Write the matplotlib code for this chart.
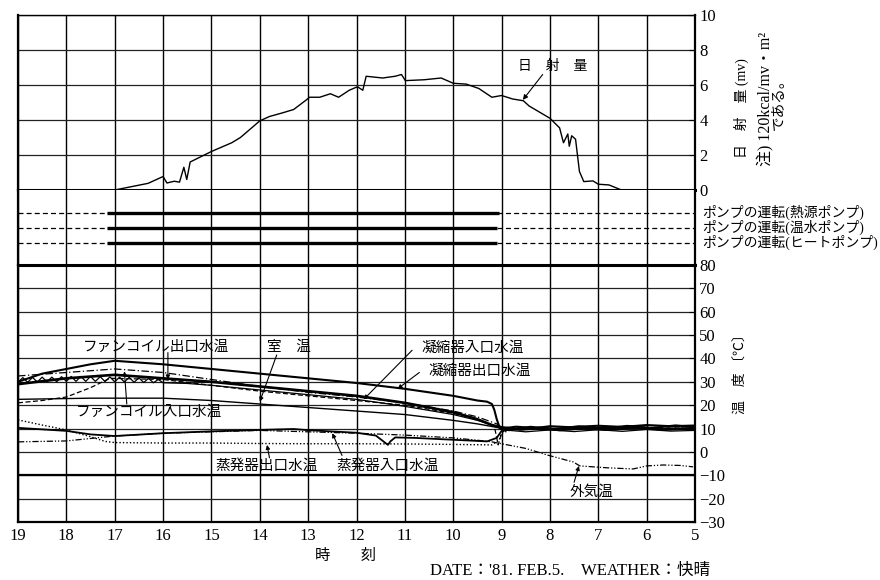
import numpy as np
import matplotlib.pyplot as plt

plt.rcParams['font.family'] = ['Liberation Serif', 'Noto Sans CJK JP']

hours = list(range(19, 4, -1))

# 日射量 (mv)
sun_h = [17.0, 16.31, 16.0, 15.92, 15.77, 15.66, 15.57, 15.51, 15.44, 15.0, 14.58, 14.4, 14.0,
         13.8, 13.54, 13.3, 13.06, 12.97, 12.76, 12.54, 12.37, 12.15, 11.98, 11.87, 11.8, 11.46,
         11.2, 11.07, 10.99, 10.6, 10.25, 10.0, 9.73, 9.47, 9.2, 9.0, 8.77, 8.55, 8.43, 8.0, 7.8,
         7.72, 7.63, 7.6, 7.55, 7.47, 7.39, 7.3, 7.11, 7.0, 6.78, 6.52]
sun_v = [0.0, 0.38, 0.77, 0.4, 0.5, 0.45, 1.3, 0.6, 1.6, 2.2, 2.7, 3.0, 3.95,
         4.2, 4.4, 4.6, 5.1, 5.3, 5.3, 5.5, 5.3, 5.7, 5.9, 5.7, 6.5, 6.4,
         6.5, 6.6, 6.25, 6.3, 6.4, 6.1, 6.05, 5.8, 5.3, 5.4, 5.2, 5.1, 4.8, 4.1, 3.55,
         2.7, 3.2, 2.5, 3.1, 2.9, 1.06, 0.48, 0.52, 0.33, 0.29, 0.0]

# ポンプの運転
pump_names = ['ポンプの運転(熱源ポンプ)', 'ポンプの運転(温水ポンプ)', 'ポンプの運転(ヒートポンプ)']
pump_on = [17.15, 17.15, 17.15]
pump_off = [9.05, 9.1, 9.1]

# 温度 (℃)
cond_out_h = [19, 18.5, 18, 17.5, 17, 16, 15, 14, 13, 12, 11, 10, 9.5, 9.3, 9.2, 9.15, 9.1, 9.05, 9.0,
              8.7, 8.3, 8, 7.6, 7, 6.5, 6, 5.5, 5]
cond_out_t = [30, 33.5, 35.5, 37.5, 39, 37.5, 35.5, 33.5, 31.5, 29.5, 27, 24, 22, 21.5, 20.5, 18, 14, 11, 10,
              10.8, 10.2, 11, 10.6, 11.2, 10.7, 11.5, 11, 11.3]

cond_in_h = [19, 18, 17, 16, 15, 14, 13, 12, 11, 10, 9.5, 9.2, 9.0, 8.6, 8.2, 7.8, 7.3, 6.8, 6.2, 5.6, 5]
cond_in_t = [29, 31.5, 33, 31.5, 30, 28, 26, 24, 21, 17, 14, 11.5, 10.5, 9.6, 10.3, 9.4, 10.2, 9.5, 10.4, 9.6, 10.2]

fc_in_h = [19, 18, 17, 16, 15, 14, 13, 12, 11, 10, 9.5, 9.1, 9.0, 8, 7, 6, 5]
fc_in_t = [32.5, 34, 35.5, 34, 31, 28, 25.5, 23.5, 21, 17.5, 15, 12, 10.5, 9.5, 10, 10, 9.5]

fc_out_h = [19.0, 18.9, 18.8, 18.7, 18.6, 18.5, 18.4, 18.3, 18.2, 18.1, 18.0, 17.9, 17.8, 17.7, 17.6,
            17.5, 17.4, 17.3, 17.2, 17.1, 17.0, 16.9, 16.8, 16.7, 16.6, 16.5, 16.4, 16.3, 16.2, 16.1,
            16.0, 15.5, 15, 14, 13, 12, 11, 10, 9.5, 9.1, 9.0, 8.5, 8, 7.5, 7, 6.5, 6, 5.5, 5]
fc_out_t = [29.8, 31.8, 29.8, 31.9, 29.9, 32.0, 30.0, 32.0, 30.0, 32.2, 30.2, 32.3, 30.2, 32.3, 30.2,
            32.3, 30.2, 32.2, 30.1, 32.1, 30.0, 32.0, 29.9, 31.9, 29.8, 31.7, 29.7, 31.5, 29.6, 31.0,
            29.6, 29.3, 28.5, 26.5, 24.5, 22.5, 19.5, 16, 13.5, 11, 9.5, 8.6, 9.4, 8.7, 9.5, 8.8, 9.6, 8.9, 9.2]

hp_h = [19, 18.5, 18, 17.5, 17.1, 16, 15, 14, 13, 12, 11, 10, 9.5, 9.15, 9.07, 9.0, 8.9, 8, 7, 6, 5]
hp_t = [21, 22, 23.5, 27.5, 31.5, 31, 28.5, 26, 24, 22, 20, 16.5, 14, 11, 3, 8, 10, 9.5, 10, 10.5, 10]

room_h = [19, 17.5, 16, 15, 14, 13, 12, 11, 10, 9.5, 9.1, 9.0, 8, 7, 6, 5]
room_t = [22.5, 23, 23, 22, 20.5, 19, 17.5, 16, 13.5, 12, 10.5, 10, 10, 10.5, 10, 10]

evap_out_h = [19, 18.5, 18, 17.5, 17.2, 17, 16, 15, 14, 13, 12, 11, 10, 9.2, 9.05, 9.0, 8.8, 8, 7, 6, 5]
evap_out_t = [13.7, 11.5, 9.4, 6.5, 4.5, 4, 3.8, 3.8, 3.6, 3.5, 3.5, 3.4, 3.2, 3, 5, 8, 9.5, 10, 10, 10.5, 10]

evap_in_h = [19, 18, 17.5, 17, 16, 15, 14, 13.3, 13, 12, 11.6, 11.35, 11.3, 11.2, 10.8, 10, 9.3, 9.1, 9.0,
             8.4, 7.9, 7.4, 6.9, 6.4, 5.9, 5.4, 5]
evap_in_t = [10.3, 9, 7.5, 6.8, 8, 8.8, 9.4, 9.8, 9.3, 8.2, 7, 3, 4.5, 6.2, 6, 5.2, 4.5, 6, 9,
             10.8, 9.8, 11, 10, 11.2, 10.3, 11.4, 10.6]

outdoor_h = [19, 18, 17, 16, 15, 14, 13, 12, 11, 10, 9.5, 9.2, 8.5, 8.06, 7.52, 7.38, 6.82, 6.28, 6.0,
             5.66, 5.3, 5.04]
outdoor_t = [4.3, 4.7, 6.8, 8, 8.6, 9.2, 8.6, 8, 7.2, 6, 5, 4.3, 1.5, -1.3, -4.3, -6, -6.8, -7.3, -6,
             -5.6, -5.8, -6.4]

fig = plt.figure(figsize=(8.8, 5.8), dpi=100)
L, W = 18 / 880, 677 / 880
ax1 = fig.add_axes([L, 1 - 190 / 580, W, 175 / 580])
ax2 = fig.add_axes([L, 1 - 265 / 580, W, 75 / 580])
ax3 = fig.add_axes([L, 1 - 522 / 580, W, 257 / 580])

for ax in (ax1, ax2, ax3):
    ax.set_xlim(19, 5)
    ax.set_xticks(hours)
    ax.grid(axis='x', color='k', lw=1.0)
    ax.set_axisbelow(True)
    ax.yaxis.tick_right()
    ax.tick_params(axis='x', length=0, labelsize=12, pad=4)
    ax.tick_params(axis='y', direction='in', length=4, labelsize=12, pad=3, width=0.8)
    ax.spines['left'].set_linewidth(1.6)
    ax.spines['right'].set_linewidth(1.6)
for ax in (ax1, ax2):
    ax.tick_params(axis='x', labelbottom=False)

# 上段 日射量
ax1.set_ylim(0, 10)
ax1.set_yticks(range(0, 11, 2))
ax1.grid(axis='y', color='#222', lw=0.9)
ax1.spines['bottom'].set_linewidth(2.2)
ax1.spines['top'].set_linewidth(1.0)
ax1.plot(sun_h, sun_v, color='k', lw=1.0)
ax1.text(7.95, 7.05, '日　射　量', fontsize=10, ha='center', va='center')
ax1.annotate('', xy=(8.56, 5.15), xytext=(8.15, 6.6),
             arrowprops=dict(arrowstyle='-|>', color='k', lw=0.8, mutation_scale=7, shrinkA=0, shrinkB=0))
ax1.text(1.068, 0.47, '日　射　量 (mv)', transform=ax1.transAxes, rotation=90,
         fontsize=10, ha='center', va='center')
ax1.text(1.104, 0.52, '注) 120kcal/mv・m²', transform=ax1.transAxes, rotation=90,
         fontsize=11.5, ha='center', va='center')
ax1.text(1.124, 0.51, 'である。', transform=ax1.transAxes, rotation=90,
         fontsize=10.5, ha='center', va='center')

# 中段 ポンプの運転
ax2.set_ylim(0, 5)
ax2.set_yticks([])
ax2.spines['top'].set_visible(False)
ax2.spines['bottom'].set_visible(False)
for i, name in enumerate(pump_names):
    lev = 3.5 - i
    ax2.axhline(lev, color='k', ls=(0, (4, 2.5)), lw=0.9)
    ax2.hlines(lev, pump_on[i], pump_off[i], color='k', lw=2.4)
    ax2.text(1.01, lev, name, transform=ax2.get_yaxis_transform(), fontsize=10,
             ha='left', va='center')

# 下段 温度
ax3.set_ylim(-30, 80)
ax3.set_yticks(range(-30, 81, 10))
ax3.grid(axis='y', color='#222', lw=0.9)
ax3.axhline(-10, color='k', lw=1.6)
ax3.spines['top'].set_linewidth(2.2)
ax3.spines['bottom'].set_linewidth(1.6)

ax3.plot(cond_out_h, cond_out_t, color='k', lw=1.5)
ax3.plot(cond_in_h, cond_in_t, color='k', lw=1.9)
ax3.plot(fc_in_h, fc_in_t, color='k', lw=0.9, ls=(0, (6, 2, 1, 2)))
ax3.plot(fc_out_h, fc_out_t, color='k', lw=0.9)
ax3.plot(hp_h, hp_t, color='k', lw=0.9, ls=(0, (4, 2)))
ax3.plot(room_h, room_t, color='k', lw=1.0)
ax3.plot(evap_out_h, evap_out_t, color='k', lw=1.0, ls=(0, (1, 1.5)))
ax3.plot(evap_in_h, evap_in_t, color='k', lw=1.3)
ax3.plot(outdoor_h, outdoor_t, color='k', lw=0.9, ls=(0, (5, 1.5, 1, 1.5, 1, 1.5)))

arrow = dict(arrowstyle='-|>', color='k', lw=0.8, mutation_scale=6, shrinkA=0, shrinkB=0)
labels = [
    ('ファンコイル出口水温', 16.15, 44.8, (15.9, 42.5), (15.9, 31.0)),
    ('室　温', 13.4, 45.0, (13.65, 41.5), (14.0, 21.5)),
    ('凝縮器入口水温', 9.6, 44.5, (10.85, 43.5), (11.85, 22.5)),
    ('凝縮器出口水温', 9.45, 34.8, (10.7, 34.0), (11.15, 27.0)),
    ('ファンコイル入口水温', 16.3, 17.0, (16.75, 20.5), (16.8, 34.5)),
    ('蒸発器出口水温', 13.85, -5.8, (13.8, -2.5), (13.85, 3.0)),
    ('蒸発器入口水温', 11.35, -5.8, (12.3, -1.5), (12.5, 8.0)),
    ('外気温', 7.15, -17.0, (7.5, -13.0), (7.4, -6.0)),
]
for text, tx, ty, a0, a1 in labels:
    ax3.text(tx, ty, text, fontsize=10.5, ha='center', va='center')
    ax3.annotate('', xy=a1, xytext=a0, arrowprops=arrow)

ax3.text(1.067, 35, '温　度 〔℃〕', transform=ax3.get_yaxis_transform(), rotation=90,
         fontsize=10, ha='center', va='center')

fig.text(345 / 880, 1 - 556 / 580, '時　　刻', fontsize=11, ha='center', va='center')
fig.text(430 / 880, 1 - 571 / 580, "DATE：'81. FEB.5.　WEATHER：快晴", fontsize=12,
         ha='left', va='center')

fig.savefig('out.png', dpi=100)
